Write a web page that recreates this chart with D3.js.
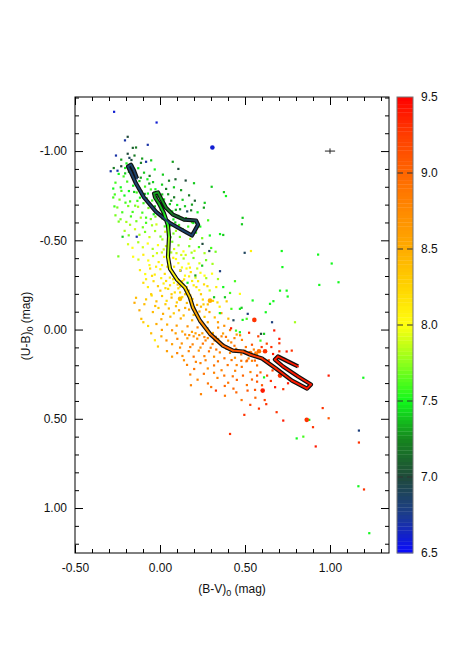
<!DOCTYPE html>
<html>
<head>
<meta charset="utf-8">
<script src="https://cdn.jsdelivr.net/npm/d3@7"></script>
<style>
  body { margin: 0; background: #fff; }
  text { font-family: "Liberation Sans", Arial, sans-serif; fill: #111; }
</style>
</head>
<body>
<svg id="chart" width="465" height="664"></svg>
<script>
// axis ticks
const bvTicks = [-0.5, 0, 0.5, 1.0];
const ubTicks = [-1.0, -0.5, 0, 0.5, 1.0];
const ageTicks = [6.5, 7.0, 7.5, 8.0, 8.5, 9.0, 9.5];
const ageDashes = [7.0, 7.5, 8.0, 8.5, 9.0];

// colour map for log(age)
const ageStops  = [6.5, 6.75, 7.0, 7.25, 7.5, 7.75, 8.0, 8.25, 8.5, 8.75, 9.0, 9.25, 9.5];
const ageColors = ["#0a0aff", "#1c3c8e", "#1f4a3a", "#16861e", "#12f81c", "#8cff1c", "#ffff10",
                   "#ffd400", "#ffac00", "#ff8a00", "#ff6600", "#ff3e00", "#ff0000"];

// typical error bar (B-V, U-B, half widths)
const errBar = [1.0, -1.0, 0.03, 0.015];

// clusters: [B-V, U-B, log age, big?]
const stars = [
  // young / blue, sparse
  [-0.270,-1.220,6.6],[-0.020,-1.160,6.6],[0.308,-1.020,6.6,1],[-0.190,-1.080,7.0],[-0.206,-1.060,6.7],
  [-0.072,-1.035,6.7],[-0.141,-1.020,7.2],[-0.160,-1.018,7.1],[-0.259,-0.975,6.7],[-0.190,-0.985,7.0],
  [-0.180,-0.962,6.9],[-0.168,-0.950,7.0],[-0.150,-0.975,7.2],[-0.082,-0.940,6.7],[-0.105,-0.958,7.3],
  [-0.052,-0.948,7.4],[0.075,-0.940,7.3],[0.108,-0.900,7.0],[-0.290,-0.887,6.7],[-0.250,-0.890,6.7],
  [-0.272,-0.905,7.2],[-0.228,-0.915,7.0],[0.151,-0.835,7.0],[0.200,-0.820,7.4],[0.304,-0.800,7.4],
  [0.376,-0.770,7.4],[0.388,-0.748,7.5],[0.263,-0.710,7.4],[0.205,-0.722,7.1],[0.188,-0.700,7.3],
  [0.160,-0.662,6.9],[0.486,-0.626,7.4],[0.482,-0.590,7.4],[0.353,-0.535,7.5],[0.372,-0.530,7.4],
  [0.498,-0.430,6.9],[0.353,-0.327,6.8],[0.535,-0.440,8.1],[0.716,-0.440,7.5],[0.720,-0.350,7.5],
  [0.930,-0.420,7.5],[1.010,-0.370,7.5],[0.937,-0.250,7.5],[1.050,-0.265,7.5],[-0.137,-0.520,6.7],
  [-0.220,-0.520,7.4],[-0.245,-0.410,7.7],[-0.275,-0.790,7.5],[-0.275,-0.740,7.6],[-0.268,-0.690,7.6],
  [-0.262,-0.640,7.7],[0.250,-0.480,7.0],[0.290,-0.440,6.9],[0.120,-0.330,6.8],
  // green cloud along the upper branch
  [-0.228,-0.952,7.3],[-0.197,-0.931,7.5],[-0.163,-0.918,7.4],[-0.128,-0.904,7.5],[-0.112,-0.934,7.2],
  [-0.243,-0.872,7.5],[-0.214,-0.858,7.6],[-0.183,-0.884,7.4],[-0.142,-0.862,7.3],[-0.094,-0.879,7.4],
  [-0.061,-0.861,7.2],[-0.031,-0.897,7.5],[0.017,-0.868,7.4],[-0.262,-0.823,7.6],[-0.231,-0.797,7.5],
  [-0.193,-0.829,7.6],[-0.158,-0.806,7.5],[-0.121,-0.832,7.4],[-0.088,-0.801,7.6],[-0.063,-0.818,7.3],
  [-0.027,-0.786,7.5],[0.012,-0.812,7.4],[0.053,-0.834,7.2],[0.082,-0.797,7.4],[0.124,-0.781,7.3],
  [-0.266,-0.757,7.6],[-0.238,-0.728,7.7],[-0.209,-0.751,7.5],[-0.176,-0.718,7.6],[-0.152,-0.771,7.4],
  [-0.118,-0.739,7.5],[-0.097,-0.708,7.6],[-0.071,-0.762,7.5],[-0.046,-0.723,7.6],[-0.018,-0.744,7.4],
  [0.024,-0.729,7.5],[0.048,-0.758,7.3],[0.083,-0.741,7.2],[0.101,-0.698,7.5],[0.133,-0.727,7.4],
  [0.171,-0.752,7.2],[-0.251,-0.684,7.7],[-0.222,-0.657,7.6],[-0.187,-0.692,7.7],[-0.161,-0.659,7.6],
  [-0.129,-0.688,7.8],[-0.104,-0.655,7.6],[-0.068,-0.681,7.7],[-0.037,-0.646,7.5],[0.004,-0.671,7.6],
  [0.031,-0.693,7.4],[0.072,-0.662,7.5],[0.118,-0.674,7.3],[0.147,-0.691,7.4],[0.183,-0.668,7.2],
  [0.221,-0.657,7.5],[0.258,-0.683,7.3],[-0.150,-0.840,7.4],[-0.120,-0.790,7.5],[-0.090,-0.760,7.3],
  [-0.060,-0.700,7.5],[-0.030,-0.690,7.4],[0.010,-0.640,7.6],[0.040,-0.610,7.5],[0.060,-0.580,7.6],
  [0.090,-0.600,7.4],[-0.176,-0.905,7.3],[-0.205,-0.875,7.4],[-0.137,-0.768,7.6],[-0.079,-0.735,7.5],
  [0.091,-0.842,7.1],[0.036,-0.788,7.2],[0.143,-0.612,7.6],[0.196,-0.597,7.5],
  [-0.205,-0.905,7.5],[-0.158,-0.873,7.6],[-0.113,-0.851,7.3],[-0.074,-0.842,7.5],[-0.041,-0.826,7.4],
  [-0.183,-0.776,7.5],[-0.133,-0.721,7.6],[-0.109,-0.774,7.4],[-0.054,-0.785,7.6],[-0.012,-0.712,7.5],
  [0.058,-0.703,7.4],[0.093,-0.671,7.3],[-0.203,-0.711,7.6],[-0.146,-0.694,7.7],[-0.082,-0.627,7.6],
  [-0.027,-0.633,7.7],[0.028,-0.578,7.6],[0.108,-0.637,7.4],[0.166,-0.577,7.6],[-0.176,-0.587,7.8],
  [-0.101,-0.573,7.7],[-0.047,-0.584,7.8],[0.079,-0.538,7.7],[0.134,-0.563,7.6],[-0.227,-0.777,7.6],
  [-0.243,-0.605,7.7],[0.013,-0.757,7.4],[0.066,-0.722,7.3],
  // green -> yellow
  [-0.232,-0.618,7.7],[-0.198,-0.603,7.8],[-0.171,-0.634,7.6],[-0.139,-0.607,7.7],[-0.113,-0.627,7.8],
  [-0.082,-0.598,7.6],[-0.054,-0.619,7.7],[-0.021,-0.589,7.9],[0.014,-0.622,7.6],[0.043,-0.596,7.7],
  [0.079,-0.617,7.5],[0.112,-0.586,7.6],[0.152,-0.624,7.4],[0.188,-0.601,7.6],[0.237,-0.577,7.5],
  [0.283,-0.612,7.6],[-0.208,-0.553,7.8],[-0.184,-0.528,7.7],[-0.147,-0.562,7.9],[-0.121,-0.531,7.8],
  [-0.088,-0.547,7.7],[-0.062,-0.518,7.9],[-0.029,-0.552,7.8],[0.003,-0.521,7.7],[0.031,-0.548,7.9],
  [0.062,-0.517,7.6],[0.094,-0.553,7.8],[0.117,-0.519,7.7],[0.153,-0.541,7.5],[0.178,-0.508,7.8],
  [0.212,-0.543,7.6],[0.248,-0.512,7.7],[0.293,-0.527,7.5],[-0.188,-0.478,7.9],[-0.162,-0.458,8.0],
  [-0.128,-0.489,7.8],[-0.101,-0.461,7.9],[-0.072,-0.482,8.0],[-0.043,-0.452,7.8],[-0.012,-0.473,8.0],
  [0.022,-0.449,7.9],[0.051,-0.478,7.7],[0.083,-0.451,7.9],[0.109,-0.472,7.8],[0.138,-0.438,8.0],
  [0.172,-0.467,7.7],[0.203,-0.441,7.9],[0.229,-0.462,7.6],[0.262,-0.428,7.8],[0.301,-0.457,7.6],
  [0.327,-0.436,7.7],[-0.158,-0.408,8.0],[-0.127,-0.392,7.9],[-0.098,-0.419,8.1],[-0.069,-0.387,8.0],
  [-0.041,-0.412,7.9],[-0.008,-0.378,8.1],[0.024,-0.407,8.0],[0.047,-0.381,7.8],[0.078,-0.402,8.1],
  [0.108,-0.372,8.0],[0.139,-0.398,7.8],[0.168,-0.369,8.0],[0.197,-0.401,7.7],[0.232,-0.371,7.9],
  [0.271,-0.389,7.7],[0.309,-0.368,7.8],[0.014,-0.505,7.8],[0.035,-0.468,7.9],[0.066,-0.432,7.8],
  [0.072,-0.492,7.7],[-0.018,-0.428,7.9],[0.094,-0.395,8.0],[0.125,-0.418,7.9],
  [0.011,-0.432,7.9],[0.043,-0.418,8.0],[0.097,-0.428,7.9],[0.151,-0.418,7.9],[0.186,-0.431,7.8],
  // yellow core
  [-0.118,-0.333,8.1],[-0.087,-0.311,8.0],[-0.058,-0.342,8.2],[-0.031,-0.308,8.1],[0.002,-0.338,8.0],
  [0.028,-0.312,8.2],[0.061,-0.329,8.1],[0.093,-0.298,7.9],[0.118,-0.331,8.1],[0.147,-0.302,8.0],
  [0.181,-0.322,8.2],[0.209,-0.291,7.9],[0.238,-0.318,8.0],[0.272,-0.288,7.8],[0.306,-0.313,8.0],
  [0.341,-0.283,7.8],[-0.098,-0.262,8.2],[-0.071,-0.238,8.1],[-0.038,-0.271,8.2],[-0.012,-0.243,8.3],
  [0.021,-0.258,8.1],[0.048,-0.228,8.2],[0.082,-0.262,8.0],[0.108,-0.231,8.2],[0.137,-0.252,8.1],
  [0.169,-0.218,8.3],[0.198,-0.248,8.1],[0.231,-0.221,8.0],[0.259,-0.253,8.2],[0.292,-0.219,7.9],
  [0.331,-0.238,8.1],[0.043,-0.352,8.1],[0.075,-0.318,8.2],[0.101,-0.281,8.1],[0.131,-0.271,8.2],
  [0.156,-0.342,8.0],[0.058,-0.291,8.1],[0.118,-0.241,8.2],[0.148,-0.198,8.3],[0.189,-0.272,8.1],
  [0.032,-0.232,8.2],[0.087,-0.208,8.2],[-0.052,-0.198,8.3],
  [-0.062,-0.361,8.0],[-0.023,-0.352,8.1],[0.012,-0.361,8.0],[0.083,-0.352,8.1],[0.129,-0.348,8.0],
  [0.176,-0.347,8.1],[0.219,-0.342,7.9],[-0.082,-0.282,8.1],[-0.047,-0.301,8.2],[0.007,-0.288,8.1],
  [0.036,-0.272,8.2],[0.077,-0.282,8.1],[0.142,-0.281,8.2],[0.171,-0.298,8.1],[0.224,-0.271,8.1],
  [0.262,-0.302,8.0],[0.059,-0.248,8.2],[0.104,-0.252,8.3],[0.156,-0.238,8.2],[0.214,-0.238,8.2],
  [0.279,-0.243,8.2],[0.002,-0.218,8.3],[0.068,-0.198,8.3],[0.118,-0.208,8.2],[0.178,-0.192,8.3],
  [0.241,-0.198,8.3],
  // yellow -> orange
  [-0.141,-0.178,8.4],[-0.082,-0.169,8.3],[-0.049,-0.191,8.2],[-0.021,-0.158,8.4],[0.012,-0.188,8.3],
  [0.039,-0.161,8.2],[0.068,-0.179,8.4],[0.099,-0.152,8.3],[0.131,-0.182,8.2],[0.158,-0.149,8.4],
  [0.191,-0.171,8.3],[0.218,-0.138,8.5],[0.252,-0.168,8.2],[0.281,-0.141,8.4],[0.312,-0.161,8.3],
  [0.351,-0.128,8.1],[0.392,-0.158,8.3],[-0.121,-0.108,8.5],[-0.042,-0.098,8.4],[-0.009,-0.121,8.3],
  [0.018,-0.088,8.5],[0.052,-0.118,8.4],[0.081,-0.091,8.3],[0.112,-0.108,8.5],[0.139,-0.079,8.4],
  [0.171,-0.112,8.6],[0.198,-0.082,8.4],[0.232,-0.101,8.5],[0.262,-0.071,8.3],[0.291,-0.098,8.5],
  [0.322,-0.068,8.4],[0.361,-0.092,8.6],[0.402,-0.061,8.4],[0.118,-0.172,8.4,1],[0.294,-0.162,8.5,1],
  [-0.150,-0.150,8.5],[-0.110,-0.060,8.4],[-0.070,-0.020,8.2],[-0.030,0.060,8.1],[-0.012,0.095,8.3],
  [0.241,-0.128,8.4],[0.148,-0.121,8.5],[0.271,-0.112,8.5],
  [-0.028,-0.132,8.4],[0.032,-0.142,8.3],[0.094,-0.131,8.4],[0.201,-0.122,8.4],[0.256,-0.141,8.3],
  [0.338,-0.152,8.2],[-0.092,-0.142,8.4],[0.008,-0.058,8.5],[0.061,-0.072,8.4],[0.122,-0.062,8.5],
  [0.189,-0.052,8.5],[0.221,-0.071,8.4],[0.281,-0.041,8.5],[0.341,-0.041,8.6],[0.378,-0.021,8.7],
  // orange band
  [-0.021,-0.031,8.5],[0.011,0.002,8.6],[0.042,-0.028,8.5],[0.071,0.004,8.7],[0.098,-0.022,8.6],
  [0.131,0.011,8.5],[0.162,-0.018,8.7],[0.188,0.013,8.6],[0.221,-0.012,8.8],[0.249,0.021,8.6],
  [0.278,-0.008,8.7],[0.311,0.019,8.5],[0.342,-0.011,8.7],[0.371,0.022,8.6],[0.412,0.003,8.8],
  [0.451,0.028,8.6],[0.038,0.061,8.7],[0.071,0.082,8.6],[0.102,0.052,8.8],[0.128,0.078,8.7],
  [0.161,0.049,8.6],[0.192,0.083,8.8],[0.219,0.051,8.7],[0.252,0.079,8.9],[0.281,0.048,8.7],
  [0.309,0.081,8.8],[0.342,0.053,8.6],[0.372,0.084,8.8],[0.401,0.062,8.7],[0.438,0.091,8.9],
  [0.482,0.058,8.8],[0.231,0.031,8.7],[0.261,0.042,8.8],[0.298,0.032,8.6],[0.328,0.041,8.8],
  [0.352,0.072,8.7],[0.388,0.041,8.9],[0.419,0.072,8.8],[0.209,0.021,8.6],[0.172,0.031,8.7],
  [0.101,0.132,8.8],[0.132,0.148,8.7],[0.169,0.121,8.8],[0.198,0.152,8.9],[0.228,0.118,8.7],
  [0.261,0.149,8.8],[0.288,0.122,8.9],[0.318,0.152,8.7],[0.352,0.128,8.8],[0.379,0.161,8.9],
  [0.412,0.131,8.8],[0.441,0.158,8.7],[0.478,0.139,8.9],[0.521,0.162,8.8],[0.562,0.129,9.0],
  [0.159,0.198,8.8],[0.201,0.221,8.9],[0.238,0.188,8.8],[0.281,0.218,8.7],[0.318,0.201,8.9],
  [0.362,0.228,8.8],[0.398,0.199,8.9],[0.442,0.231,8.8],[0.481,0.209,8.9],[0.532,0.238,8.8],
  [0.221,0.281,8.8],[0.282,0.302,8.9],[0.338,0.271,8.8],[0.401,0.298,8.9],[0.452,0.282,9.0],
  [0.511,0.311,8.9],[0.571,0.292,9.1],[0.241,0.362,8.8],[0.382,0.371,8.9],[0.561,0.382,9.0],
  [0.582,0.122,8.9,1],[0.565,0.142,8.8,1],[0.541,0.175,8.8],[0.571,0.201,8.9],[0.508,0.178,8.8],
  [0.478,0.175,8.9],[0.448,0.108,8.8],[0.505,0.098,8.9],[0.451,0.199,8.8],
  [0.092,0.021,8.6],[0.148,0.028,8.7],[0.198,0.038,8.7],[0.268,0.061,8.8],[0.321,0.061,8.7],
  [0.362,0.038,8.8],[0.438,0.048,8.8],[0.471,0.032,8.8],[0.118,0.101,8.7],[0.178,0.098,8.8],
  [0.238,0.101,8.7],[0.298,0.102,8.8],[0.331,0.112,8.9],[0.392,0.108,8.8],[0.461,0.121,8.8],
  [0.498,0.119,8.9],[0.531,0.131,8.9,1],[0.552,0.112,8.8],[0.141,0.172,8.7],[0.211,0.181,8.8],
  [0.268,0.172,8.8],[0.341,0.178,8.9],[0.421,0.171,8.9],[0.178,0.252,8.8],[0.258,0.248,8.9],
  [0.318,0.242,8.8],[0.378,0.258,8.9],[0.428,0.262,8.9],[0.488,0.258,9.0],[0.301,0.322,8.9],
  [0.432,0.331,9.0],[0.182,0.312,8.8],[0.071,0.152,8.6],[0.041,0.121,8.6],[0.008,0.038,8.5],
  [-0.052,0.021,8.4],[-0.098,-0.041,8.3],
  // red, older
  [0.418,-0.007,9.4],[0.524,0.018,9.3],[0.555,-0.054,9.3,1],[0.618,0.122,9.3,1],[0.702,0.052,9.4],
  [0.702,0.077,9.3],[0.775,0.118,9.3],[0.745,0.123,9.4],[0.702,0.122,9.3],[0.696,0.230,9.4],
  [0.706,0.258,9.3,1],[0.604,0.342,9.4,1],[0.686,0.463,9.3],[0.725,0.510,9.4],[0.582,0.443,9.3],
  [0.496,0.478,9.3],[0.329,0.342,9.3],[0.412,0.585,9.3],[0.480,0.395,8.9],[0.647,0.193,9.4],
  [0.628,0.079,9.2],[0.598,0.098,9.3],[0.665,0.137,9.4],[0.588,0.158,9.1],[0.558,0.174,9.0],
  [0.512,0.174,9.0],[0.714,0.248,9.1],[0.751,0.266,9.1],[0.677,0.323,9.4],[0.725,0.334,9.3],
  [0.541,0.280,9.0],[0.600,0.312,9.1],[0.630,0.258,9.2],[0.662,0.229,9.2],[0.591,0.240,9.0],
  [0.559,0.338,9.1],[0.616,0.395,9.2],[0.515,0.342,9.1],[0.449,0.352,9.0],[0.381,0.316,9.0],
  [0.541,0.085,9.1],[0.578,0.038,9.2],[0.672,0.005,9.4],[0.640,0.172,9.2],
  [0.612,0.168,9.2],[0.655,0.098,9.3],[0.735,0.165,9.4],[0.688,0.182,9.3],[0.571,0.258,9.1],
  [0.652,0.288,9.3],[0.753,0.301,9.4],[0.625,0.418,9.3],[0.531,0.422,9.2],
  // scattered greens and blues among the older stars
  [0.516,-0.088,6.8],[0.659,-0.041,6.8],[0.622,-0.097,7.5],[0.594,0.024,7.0],[0.612,0.024,7.4],
  [0.545,-0.163,7.5],[0.647,-0.144,7.5],[0.667,-0.159,7.5],[0.706,-0.218,7.5],[0.745,-0.218,7.5],
  [0.751,-0.185,7.5],[0.794,-0.041,7.8],[0.470,-0.116,7.5],[0.480,-0.122,7.4],[0.420,-0.116,7.6],
  [0.486,-0.054,7.5],[0.510,-0.060,7.6],[0.447,0.006,7.6],[0.470,0.015,7.5],[0.470,-0.200,8.0],
  [0.412,-0.205,7.6],[0.372,-0.238,7.5],[0.382,-0.181,7.4],[0.441,-0.271,7.6],[0.318,-0.181,7.4],
  [0.352,-0.092,7.5],[0.432,-0.052,6.9],[0.248,-0.358,7.4],[0.208,-0.303,7.3],[0.162,-0.262,7.5],
  [0.612,0.268,7.5],[0.591,0.062,7.6],
  // lower outliers
  [0.804,0.610,7.5],[0.843,0.600,7.6],[0.863,0.506,9.3,1],[0.878,0.506,7.5],[0.900,0.547,9.3],
  [0.916,0.655,9.4],[0.957,0.440,9.3],[0.992,0.497,9.1],[0.992,0.258,9.4],[1.196,0.270,7.5],
  [1.170,0.566,6.8],[1.170,0.633,9.3],[1.167,0.878,7.5],[1.200,0.896,9.3],[1.231,1.141,7.5]
];

// isochrone track: B-V, U-B, log age used for the inner colour
const trackBV = [0.812,0.753,0.694,0.676,0.724,0.812,0.888,0.865,0.776,0.682,0.600,0.529,0.488,0.429,
  0.370,0.294,0.235,0.194,0.176,0.147,0.100,0.059,0.047,0.053,0.047,0.024,-0.006,-0.029,-0.035,-0.012,
  0.006,0.035,0.076,0.141,0.212,0.224,0.188,0.135,0.053,-0.024,-0.094,-0.141,-0.171,-0.188,-0.171,
  -0.153,-0.135];
const trackUB = [0.207,0.179,0.151,0.168,0.207,0.263,0.308,0.331,0.286,0.218,0.162,0.140,0.123,0.118,
  0.090,0.024,-0.050,-0.123,-0.179,-0.235,-0.280,-0.340,-0.408,-0.521,-0.583,-0.650,-0.706,-0.740,
  -0.762,-0.768,-0.734,-0.683,-0.644,-0.616,-0.611,-0.588,-0.527,-0.555,-0.600,-0.661,-0.740,-0.818,
  -0.880,-0.913,-0.924,-0.891,-0.846];
const trackAge = [9.4,9.4,9.4,9.4,9.4,9.4,9.4,9.4,9.4,9.35,9.3,9.25,9.15,9.1,
  8.95,8.8,8.65,8.5,8.35,8.2,8.1,8.0,7.9,7.75,7.6,7.45,7.35,7.3,
  7.3,7.3,7.3,7.3,7.2,7.0,6.9,6.85,6.85,6.85,6.85,6.85,6.85,6.85,
  6.85,6.85,6.85,6.85,6.85];

const svg = d3.select("#chart");
const plot = { left: 75, right: 389, top: 97, bottom: 553 };

const x = d3.scaleLinear().domain([-0.5, 1.347]).range([plot.left, plot.right]);
const y = d3.scaleLinear().domain([-1.303, 1.252]).range([plot.top, plot.bottom]);
const color = d3.scaleLinear().domain(ageStops).range(ageColors).clamp(true);

const fmt2 = d => d.toFixed(2);

// minor ticks every 0.1
const bvMinor = d3.range(-5, 14).map(i => i / 10).filter(v => !bvTicks.some(t => Math.abs(t - v) < 1e-6));
const ubMinor = d3.range(-13, 13).map(i => i / 10).filter(v => !ubTicks.some(t => Math.abs(t - v) < 1e-6));

function addAxis(axis, transform, labels) {
  const g = svg.append("g").attr("transform", transform).call(axis);
  g.select(".domain").remove();
  g.selectAll(".tick line").attr("stroke", "#000");
  g.selectAll(".tick text").attr("font-size", 12).attr("fill", "#111")
    .style("font-family", '"Liberation Sans", Arial, sans-serif');
  if (!labels) g.selectAll(".tick text").remove();
  return g;
}

// bottom / top
addAxis(d3.axisBottom(x).tickValues(bvTicks).tickSize(-8).tickPadding(10).tickFormat(fmt2), `translate(0,${plot.bottom})`, true);
addAxis(d3.axisBottom(x).tickValues(bvMinor).tickSize(-4).tickFormat(""), `translate(0,${plot.bottom})`, false);
addAxis(d3.axisTop(x).tickValues(bvTicks).tickSize(-8), `translate(0,${plot.top})`, false);
addAxis(d3.axisTop(x).tickValues(bvMinor).tickSize(-4), `translate(0,${plot.top})`, false);
// left / right
addAxis(d3.axisLeft(y).tickValues(ubTicks).tickSize(-8).tickPadding(8).tickFormat(fmt2), `translate(${plot.left},0)`, true);
addAxis(d3.axisLeft(y).tickValues(ubMinor).tickSize(-4).tickFormat(""), `translate(${plot.left},0)`, false);
addAxis(d3.axisRight(y).tickValues(ubTicks).tickSize(-8), `translate(${plot.right},0)`, false);
addAxis(d3.axisRight(y).tickValues(ubMinor).tickSize(-4), `translate(${plot.right},0)`, false);

// stars
const dots = svg.append("g");
dots.selectAll("rect.small")
  .data(stars.filter(d => !d[3]))
  .enter().append("rect")
  .attr("class", "small")
  .attr("x", d => x(d[0]) - 1.1)
  .attr("y", d => y(d[1]) - 1.1)
  .attr("width", 2.2)
  .attr("height", 2.2)
  .attr("fill", d => color(d[2]));
dots.selectAll("circle.big")
  .data(stars.filter(d => d[3]))
  .enter().append("circle")
  .attr("class", "big")
  .attr("cx", d => x(d[0]))
  .attr("cy", d => y(d[1]))
  .attr("r", 2.3)
  .attr("fill", d => color(d[2]));

// track: black casing, then coloured core
const track = trackBV.map((bv, i) => [bv, trackUB[i], trackAge[i]]);
const line = d3.line().x(d => x(d[0])).y(d => y(d[1]));
svg.append("path")
  .datum(track)
  .attr("d", line)
  .attr("fill", "none")
  .attr("stroke", "#111")
  .attr("stroke-width", 4.2)
  .attr("stroke-linejoin", "round");
svg.append("g").selectAll("line")
  .data(d3.pairs(track))
  .enter().append("line")
  .attr("x1", d => x(d[0][0])).attr("y1", d => y(d[0][1]))
  .attr("x2", d => x(d[1][0])).attr("y2", d => y(d[1][1]))
  .attr("stroke", d => color((d[0][2] + d[1][2]) / 2))
  .attr("stroke-width", 1.8)
  .attr("stroke-linecap", "round");

// error cross
const eb = svg.append("g").attr("stroke", "#222").attr("stroke-width", 1);
eb.append("line").attr("x1", x(errBar[0] - errBar[2])).attr("x2", x(errBar[0] + errBar[2]))
  .attr("y1", y(errBar[1])).attr("y2", y(errBar[1]));
eb.append("line").attr("x1", x(errBar[0])).attr("x2", x(errBar[0]))
  .attr("y1", y(errBar[1] - errBar[3])).attr("y2", y(errBar[1] + errBar[3]));

// frame
svg.append("rect")
  .attr("x", plot.left).attr("y", plot.top)
  .attr("width", plot.right - plot.left).attr("height", plot.bottom - plot.top)
  .attr("fill", "none").attr("stroke", "#000").attr("stroke-width", 1);

// axis titles
const xt = svg.append("text").attr("x", 232).attr("y", 593).attr("text-anchor", "middle").attr("font-size", 12);
xt.append("tspan").text("(B-V)");
xt.append("tspan").attr("font-size", 9).attr("dy", 3).text("0");
xt.append("tspan").attr("dy", -3).text(" (mag)");

const yt = svg.append("text").attr("transform", "translate(30,326) rotate(-90)")
  .attr("text-anchor", "middle").attr("font-size", 12);
yt.append("tspan").text("(U-B)");
yt.append("tspan").attr("font-size", 9).attr("dy", 3).text("0");
yt.append("tspan").attr("dy", -3).text(" (mag)");

// colour bar
const cb = { x: 397, w: 16 };
const cy = d3.scaleLinear().domain([6.5, 9.5]).range([plot.bottom, plot.top]);
const bands = d3.range(0, 120).map(i => 6.5 + i * 0.025);
svg.append("g").selectAll("rect")
  .data(bands)
  .enter().append("rect")
  .attr("x", cb.x)
  .attr("y", d => cy(d + 0.025))
  .attr("width", cb.w)
  .attr("height", d => cy(d) - cy(d + 0.025) + 0.3)
  .attr("fill", d => color(d + 0.0125));
svg.append("g").selectAll("line")
  .data(ageDashes)
  .enter().append("line")
  .attr("x1", cb.x).attr("x2", cb.x + cb.w)
  .attr("y1", d => cy(d)).attr("y2", d => cy(d))
  .attr("stroke", "#333").attr("stroke-width", 1.2)
  .attr("stroke-dasharray", "6,4");
svg.append("rect")
  .attr("x", cb.x).attr("y", plot.top)
  .attr("width", cb.w).attr("height", plot.bottom - plot.top)
  .attr("fill", "none").attr("stroke", "#777").attr("stroke-width", 1);
svg.append("g").selectAll("text")
  .data(ageTicks)
  .enter().append("text")
  .attr("x", 421)
  .attr("y", d => cy(d))
  .attr("dy", "0.35em")
  .attr("font-size", 12)
  .text(d => d.toFixed(1));
</script>
</body>
</html>
